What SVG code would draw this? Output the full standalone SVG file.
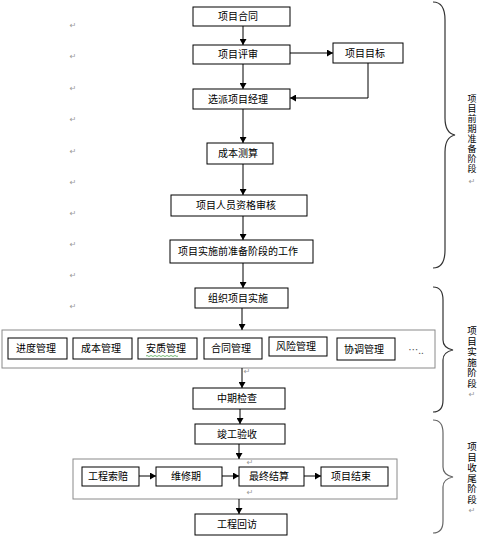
<svg xmlns="http://www.w3.org/2000/svg" width="487" height="544" viewBox="0 0 487 544">
<defs>
<marker id="ah" markerUnits="userSpaceOnUse" markerWidth="7" markerHeight="7" refX="6" refY="3.5" orient="auto">
<path d="M0,0 L6,3.5 L0,7 z" fill="#000"/>
</marker>
<style>
.b{fill:#fff;stroke:#000;stroke-width:1}
.o{fill:none;stroke:#8a8a8a;stroke-width:1}
.t{font-family:"Noto Sans CJK SC","Noto Sans",sans-serif;font-size:10px;fill:#000;text-anchor:middle}
.v{font-family:"Noto Sans CJK SC","Noto Sans",sans-serif;font-size:9.5px;fill:#000;writing-mode:vertical-rl;text-orientation:upright;letter-spacing:1px}
.p{font-family:"DejaVu Sans",sans-serif;font-size:8px;fill:#9a9a9a;text-anchor:middle}
.c{fill:none;stroke:#000;stroke-width:1}
.br{fill:none;stroke:#333;stroke-width:1.2}
</style>
</defs>
<rect width="487" height="544" fill="#fff"/>

<g id="marks">
<text class="p" x="73" y="28">↵</text>
<text class="p" x="73" y="59">↵</text>
<text class="p" x="73" y="91">↵</text>
<text class="p" x="73" y="122">↵</text>
<text class="p" x="73" y="154">↵</text>
<text class="p" x="73" y="185">↵</text>
<text class="p" x="73" y="216">↵</text>
<text class="p" x="73" y="247">↵</text>
<text class="p" x="73" y="278">↵</text>
<text class="p" x="73" y="309">↵</text>
<text class="p" x="247" y="374">↵</text>
<text class="p" x="250" y="465">↵</text>
<text class="p" x="250" y="495">↵</text>
</g>

<g id="groups">
<rect class="o" x="2" y="330" width="433" height="38"/>
<rect class="o" x="73" y="459" width="324" height="40"/>
</g>

<g id="connectors">
<line class="c" x1="243" y1="26" x2="243" y2="45" marker-end="url(#ah)"/>
<line class="c" x1="243" y1="64" x2="243" y2="89" marker-end="url(#ah)"/>
<line class="c" x1="290" y1="53" x2="333" y2="53" marker-end="url(#ah)"/>
<polyline class="c" points="368,63 368,98 290,98" marker-end="url(#ah)"/>
<line class="c" x1="243" y1="109" x2="243" y2="143" marker-end="url(#ah)"/>
<line class="c" x1="243" y1="164" x2="243" y2="195" marker-end="url(#ah)"/>
<line class="c" x1="243" y1="216" x2="243" y2="240" marker-end="url(#ah)"/>
<line class="c" x1="243" y1="263" x2="243" y2="288" marker-end="url(#ah)"/>
<line class="c" x1="242" y1="308" x2="242" y2="330" marker-end="url(#ah)"/>
<line class="c" x1="242" y1="368" x2="242" y2="388" marker-end="url(#ah)"/>
<line class="c" x1="240" y1="409" x2="240" y2="424" marker-end="url(#ah)"/>
<line class="c" x1="239" y1="444" x2="239" y2="459" marker-end="url(#ah)"/>
<line class="c" x1="139" y1="476" x2="156" y2="476" marker-end="url(#ah)"/>
<line class="c" x1="222" y1="476" x2="239" y2="476" marker-end="url(#ah)"/>
<line class="c" x1="304" y1="476" x2="321" y2="476" marker-end="url(#ah)"/>
<line class="c" x1="239" y1="499" x2="239" y2="514" marker-end="url(#ah)"/>
</g>

<g id="n1"><rect class="b" x="193" y="7" width="97" height="19"/><text class="t" x="238" y="20">项目合同</text></g>
<g id="n2"><rect class="b" x="193" y="45" width="97" height="19"/><text class="t" x="238" y="58">项目评审</text></g>
<g id="n3"><rect class="b" x="333" y="43" width="70" height="20"/><text class="t" x="365" y="57">项目目标</text></g>
<g id="n4"><rect class="b" x="193" y="89" width="97" height="20"/><text class="t" x="238" y="103">选派项目经理</text></g>
<g id="n5"><rect class="b" x="207" y="143" width="66" height="21"/><text class="t" x="238" y="157">成本测算</text></g>
<g id="n6"><rect class="b" x="171" y="195" width="136" height="21"/><text class="t" x="236" y="209">项目人员资格审核</text></g>
<g id="n7"><rect class="b" x="170" y="240" width="143" height="23"/><text class="t" x="238" y="255">项目实施前准备阶段的工作</text></g>
<g id="n8"><rect class="b" x="195" y="288" width="93" height="20"/><text class="t" x="238" y="302">组织项目实施</text></g>
<g id="n9"><rect class="b" x="8" y="338" width="59" height="21"/><text class="t" x="36" y="352">进度管理</text></g>
<g id="n10"><rect class="b" x="73" y="338" width="59" height="21"/><text class="t" x="101" y="352">成本管理</text></g>
<g id="n11"><rect class="b" x="138" y="338" width="59" height="21"/><text class="t" x="166" y="352">安质管理</text><path d="M146,356 q1,-1 2,0 t2,0 t2,0 t2,0 t2,0 t2,0 t2,0 t2,0 t2,0 t2,0 t2,0 t2,0 t2,0 t2,0 t2,0 t2,0" fill="none" stroke="#3a9a3a" stroke-width="0.7"/></g>
<g id="n12"><rect class="b" x="204" y="338" width="58" height="21"/><text class="t" x="231" y="352">合同管理</text></g>
<g id="n13"><rect class="b" x="269" y="337" width="58" height="19"/><text class="t" x="296" y="350">风险管理</text></g>
<g id="n14"><rect class="b" x="337" y="338" width="58" height="22"/><text class="t" x="364" y="353">协调管理</text></g>
<g id="n15"><text class="t" x="416" y="354" style="fill:#555">…..</text></g>
<g id="n16"><rect class="b" x="193" y="388" width="92" height="21"/><text class="t" x="237" y="402">中期检查</text></g>
<g id="n17"><rect class="b" x="195" y="424" width="90" height="20"/><text class="t" x="237" y="438">竣工验收</text></g>
<g id="n18"><rect class="b" x="82" y="467" width="57" height="19"/><text class="t" x="108" y="480">工程索赔</text></g>
<g id="n19"><rect class="b" x="156" y="467" width="66" height="19"/><text class="t" x="186" y="480">维修期</text></g>
<g id="n20"><rect class="b" x="239" y="467" width="65" height="19"/><text class="t" x="269" y="480">最终结算</text></g>
<g id="n21"><rect class="b" x="321" y="467" width="67" height="19"/><text class="t" x="351" y="480">项目结束</text></g>
<g id="n22"><rect class="b" x="195" y="514" width="92" height="21"/><text class="t" x="237" y="528">工程回访</text></g>

<g id="phase1">
<path class="br" d="M433,2 Q445,2 445,20 L445,118 Q445,133 455,135 Q445,137 445,152 L445,250 Q445,268 433,268"/>
<text class="v" x="472" y="94" style="font-size:9px">项目前期准备阶段</text><text class="p" x="472" y="184">↵</text>
</g>
<g id="phase2">
<path class="br" d="M433,287 Q443,287 443,300 L443,340 Q443,348 453,350 Q443,352 443,360 L443,400 Q443,412 433,412"/>
<text class="v" x="472" y="326">项目实施阶段</text><text class="p" x="472" y="397">↵</text>
</g>
<g id="phase3">
<path class="br" d="M433,420 Q443,420 443,433 L443,467 Q443,475 453,477 Q443,479 443,487 L443,521 Q443,533 433,533" style="stroke:#666"/>
<text class="v" x="472" y="442">项目收尾阶段</text><text class="p" x="472" y="513">↵</text>
</g>
</svg>
